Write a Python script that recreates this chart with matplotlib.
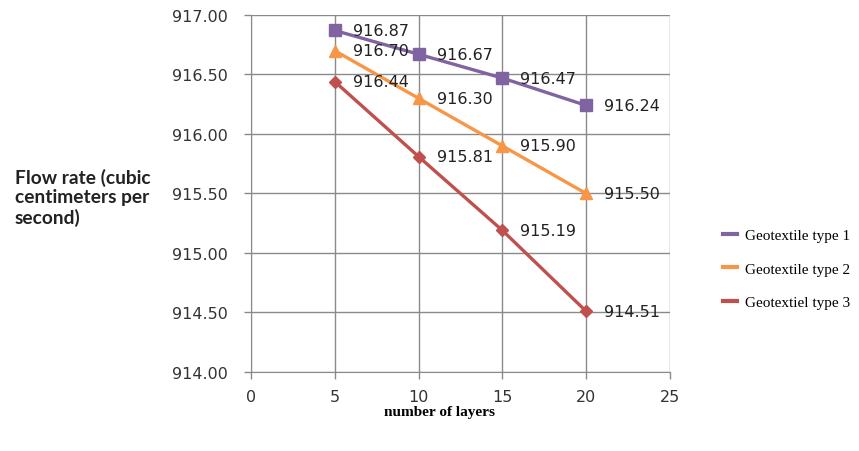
import matplotlib
matplotlib.use("Agg")
import matplotlib.pyplot as plt
from matplotlib.lines import Line2D

# Anzahl der Lagen und gemessene Durchflussraten je Geotextil
layers = [5, 10, 15, 20]
flow_type1 = [916.87, 916.67, 916.47, 916.24]
flow_type2 = [916.70, 916.30, 915.90, 915.50]
flow_type3 = [916.44, 915.81, 915.19, 914.51]

series_names = ["Geotextile type 1", "Geotextile type 2", "Geotextiel type 3"]
x_ticks = [0, 5, 10, 15, 20, 25]
y_ticks = [914.0, 914.5, 915.0, 915.5, 916.0, 916.5, 917.0]

colors = ["#8064A2", "#F79646", "#C0504D"]
markers = ["s", "^", "D"]
msizes = [9, 9, 6.5]

fig = plt.figure(figsize=(8.59, 4.52), dpi=100)
ax = fig.add_axes([0.2922, 0.1748, 0.4877, 0.7898])

for vals, col, mk, ms in zip([flow_type1, flow_type2, flow_type3], colors, markers, msizes):
    ax.plot(layers, vals, color=col, linewidth=2.4, marker=mk, markersize=ms,
            zorder=3)
    for x, v in zip(layers, vals):
        ax.annotate(f"{v:.2f}", (x, v), xytext=(13, 0), textcoords="offset points",
                    ha="left", va="center", fontsize=11.5, color="#222222",
                    zorder=4)

ax.set_xlim(0, 25)
ax.set_ylim(914.0, 917.0)
ax.set_xticks(x_ticks)
ax.set_yticks(y_ticks)
ax.set_yticklabels([f"{t:.2f}" for t in y_ticks])
ax.grid(True, color="#8a8a8a", linewidth=1.0)
ax.set_axisbelow(True)
for side in ["top", "right"]:
    ax.spines[side].set_visible(False)
for side in ["left", "bottom"]:
    ax.spines[side].set_color("#8a8a8a")
ax.tick_params(axis="both", colors="#8a8a8a", length=5, width=1.0,
               labelsize=11.5, labelcolor="#333333")
ax.tick_params(axis="y", pad=12)
ax.tick_params(axis="x", pad=7)

fig.text(0.017, 0.562, "Flow rate (cubic\ncentimeters per\nsecond)",
         fontfamily="Lato", fontweight="bold", fontsize=13.8, ha="left",
         va="center", linespacing=1.15, color="#222222")

fig.text(0.512, 0.087, "number of layers", fontfamily="Liberation Serif",
         fontweight="bold", fontsize=11, ha="center", va="center")

handles = [Line2D([0], [0], color=c, linewidth=3) for c in colors]
fig.legend(handles, series_names, loc="center left",
           bbox_to_anchor=(0.826, 0.403), frameon=False,
           prop={"family": "Liberation Serif", "size": 11},
           handlelength=0.9, handletextpad=0.5, labelspacing=1.3)

fig.savefig("out.png", dpi=100)
